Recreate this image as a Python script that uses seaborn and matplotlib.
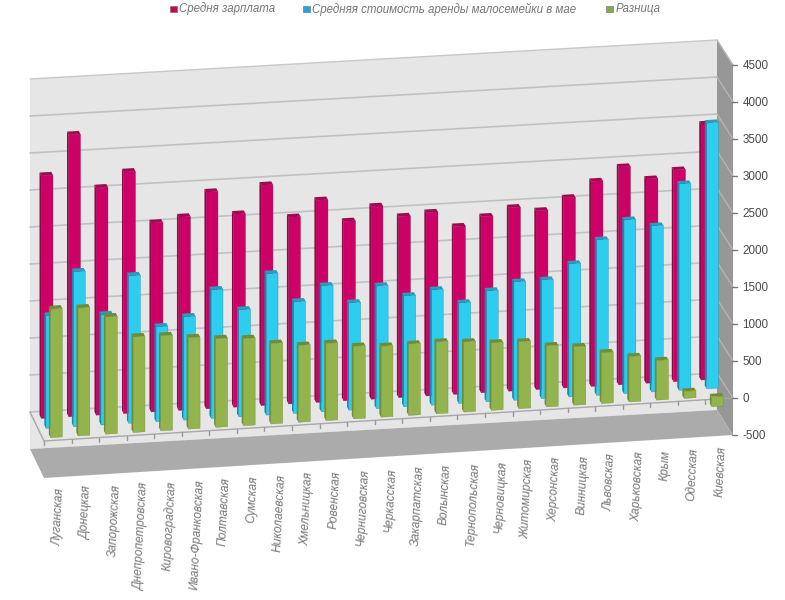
import matplotlib
matplotlib.use('Agg')
import matplotlib.pyplot as plt
import seaborn as sns
from matplotlib.patches import Polygon, Rectangle
from matplotlib.transforms import Affine2D

regions = ['Луганская', 'Донецкая', 'Запорожская', 'Днепропетровская', 'Кировоградская',
           'Ивано-Франковская', 'Полтавская', 'Сумская', 'Николаевская', 'Хмельницкая',
           'Ровенская', 'Черниговская', 'Черкасская', 'Закарпатская', 'Волынская',
           'Тернопольская', 'Черновицкая', 'Житомирская', 'Херсонская', 'Винницкая',
           'Львовская', 'Харьковская', 'Крым', 'Одесская', 'Киевская']
salary = [3277, 3809, 3070, 3264, 2553, 2611, 2927, 2607, 2977, 2522, 2730, 2424, 2604,
          2446, 2478, 2267, 2380, 2479, 2416, 2570, 2770, 2944, 2759, 2859, 3458]
rent = [1520, 2092, 1489, 1994, 1282, 1395, 1737, 1444, 1908, 1508, 1701, 1449, 1656,
        1499, 1558, 1359, 1499, 1598, 1603, 1797, 2099, 2346, 2243, 2788, 3590]
diff = [1736, 1728, 1584, 1292, 1284, 1235, 1199, 1177, 1088, 1039, 1044, 981, 959,
        965, 970, 947, 912, 904, 828, 792, 689, 613, 537, 96, -135]
value_ticks = [-500, 0, 500, 1000, 1500, 2000, 2500, 3000, 3500, 4000, 4500]
legend_names = ['Средня зарплата', 'Средняя стоимость аренды малосемейки в мае', 'Разница']

sns.set_theme(style='white')
plt.rcParams['font.family'] = ['Liberation Sans', 'DejaVu Sans']

fig = plt.figure(figsize=(7.85, 6), dpi=100)
ax = fig.add_axes([0, 0, 1, 1])

V_SCALE = 0.074
BAR_DEPTH = 0.115
FIRST, LAST = -0.5, len(regions) - 0.5
V_MIN, V_MAX = value_ticks[0], value_ticks[-1]


def plane(d):
    # maps (category index, value) to image pixels at depth d (0 back wall, 1 front edge)
    sx = 27.48 + d * 0.08
    x0 = 43.74 + d * 14.04
    sy = -1.56 - d * 0.16
    y0 = 411.22 + d * 28.92
    return Affine2D.from_values(sx, sy, 0, -V_SCALE, x0, y0)


def face(points, color, z):
    ax.add_patch(Polygon(points, closed=True, facecolor=color, edgecolor='none', linewidth=0, zorder=z))


back, front = plane(0), plane(1)
corner = lambda t, x, v: tuple(t.transform((x, v)))

# box walls
face([corner(back, FIRST, V_MIN), corner(back, FIRST, V_MAX),
      corner(back, LAST, V_MAX), corner(back, LAST, V_MIN)], '#e6e6e6', 0)
face([corner(back, LAST, V_MIN), corner(back, LAST, V_MAX),
      corner(front, LAST, V_MAX), corner(front, LAST, V_MIN)], '#979797', 0)
face([corner(back, FIRST, V_MIN), corner(front, FIRST, V_MIN),
      corner(front, LAST, V_MIN), corner(back, LAST, V_MIN)], '#ababab', 0.1)

for v in value_ticks[1:]:
    x1, y1 = corner(back, FIRST, v)
    x2, y2 = corner(back, LAST, v)
    x3, y3 = corner(front, LAST, v)
    if v < V_MAX:
        ax.plot([x1, x2], [y1, y2], color='#bfc1c3', lw=1.2, zorder=0.5)
    ax.plot([x2, x3], [y2, y3], color='#b4b4b4', lw=1, zorder=0.5)

# top edge of the wall
x1, y1 = corner(back, FIRST, V_MAX)
x2, y2 = corner(back, LAST, V_MAX)
ax.plot([x1, x2], [y1, y2], color='#c8c8c8', lw=1, zorder=0.5)

# floor outline at zero
xa, ya = corner(back, FIRST, 0)
xb, yb = corner(front, FIRST, 0)
xc, yc = corner(front, LAST, 0)
ax.plot([xa, xb, xc], [ya, yb, yc], color='#a8a8a8', lw=1, zorder=0.6)

# value axis on the right
for v in value_ticks:
    x, y = corner(front, LAST, v)
    ax.plot([x - 1, x + 4], [y, y], color='#777777', lw=1, zorder=0.6)
    ax.text(x + 9.5, y + 1, str(v), ha='left', va='center', fontsize=8.4, color='#4a4a4a')

# category ticks and labels
for i, name in enumerate(regions):
    x, y = corner(front, i - 0.5, 0)
    ax.plot([x, x], [y, y + 4], color='#999999', lw=1, zorder=0.6)
    lx, ly = corner(front, i, -640)
    ax.text(lx + 1.5, ly, name, rotation=87, ha='center', va='top', fontsize=8.6,
            style='italic', color='#777777')

# depth, colours: front, side, top
series = [
    (salary, 0.235, '#cc0066', '#8a0a45', '#a00a50'),
    (rent, 0.58, '#2ccdee', '#1a86a8', '#2a9cbc'),
    (diff, 0.90, '#93b34c', '#6f8c36', '#6f8c36'),
]

bar_width = 0.43
for n, (values, d, c_front, c_side, c_top) in enumerate(series):
    sns.barplot(x=regions, y=values, color=c_front, saturation=1, width=bar_width,
                errorbar=None, ax=ax, edgecolor=c_side, linewidth=0.25)
    near, far = plane(d), plane(d - BAR_DEPTH)
    z = 2 + n
    for bar in ax.containers[-1]:
        bar.set_transform(near + ax.transData)
        bar.set_zorder(z + 0.1)
        left, right = bar.get_x(), bar.get_x() + bar.get_width()
        lo, hi = sorted((bar.get_y(), bar.get_y() + bar.get_height()))
        face([corner(near, left, lo), corner(near, left, hi),
              corner(far, left, hi), corner(far, left, lo)], c_side, z)
        face([corner(near, left, hi), corner(near, right, hi),
              corner(far, right, hi), corner(far, left, hi)], c_top, z)

# legend row
legend_squares = [(170, 6), (303, 6), (606, 6)]
legend_colors = ['#cc0055', '#1fa8d8', '#8aa848']
for name, (x, y), c in zip(legend_names, legend_squares, legend_colors):
    ax.add_patch(Rectangle((x, y), 6.5, 6, facecolor=c, edgecolor='#666666', lw=0.4))
    ax.text(x + 9.3, y + 3, name, ha='left', va='center', fontsize=8.3, style='italic', color='#777777')

ax.set_xlim(0, 785)
ax.set_ylim(600, 0)
ax.set_axis_off()
fig.savefig('out.png', dpi=100)
